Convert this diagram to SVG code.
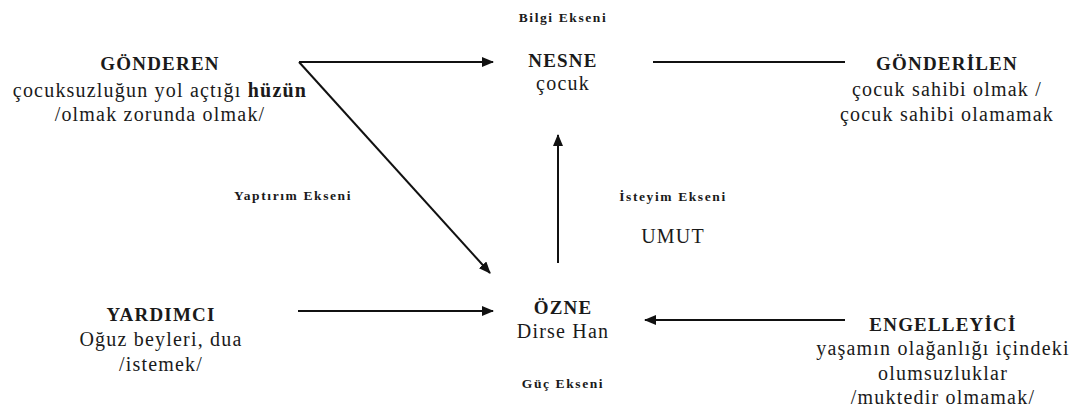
<svg xmlns="http://www.w3.org/2000/svg" width="1078" height="410" viewBox="0 0 1078 410">
<style>
text{font-family:"Liberation Serif","Times New Roman",serif;fill:#1a1a1a;text-anchor:middle}
.t{font-weight:bold;font-size:19px;letter-spacing:1.2px}
.s{font-size:20px;letter-spacing:1.2px}
.ax{font-weight:bold;font-size:13.5px;letter-spacing:1.6px}
.c{stroke:#111;stroke-width:2;fill:none}
</style>
<defs>
<marker id="ah" viewBox="0 0 12 10" refX="11" refY="5" markerWidth="12" markerHeight="10" markerUnits="userSpaceOnUse" orient="auto">
<path d="M0,0 L12,5 L0,10 z" fill="#111"/>
</marker>
</defs>
<rect width="1078" height="410" fill="#fff"/>
<g id="connectors">
<line class="c" x1="299" y1="62" x2="493" y2="62" marker-end="url(#ah)"/>
<line class="c" x1="653" y1="62" x2="845" y2="62"/>
<line class="c" x1="299" y1="62" x2="490" y2="273" marker-end="url(#ah)"/>
<line class="c" x1="558" y1="263" x2="558" y2="135" marker-end="url(#ah)"/>
<line class="c" x1="298" y1="311" x2="493" y2="311" marker-end="url(#ah)"/>
<line class="c" x1="845" y1="320" x2="645" y2="320" marker-end="url(#ah)"/>
</g>
<g id="bilgi"><text class="ax" x="563" y="22">Bilgi Ekseni</text></g>
<g id="nesne"><text class="t" x="563" y="67">NESNE</text><text class="s" x="563" y="90">çocuk</text></g>
<g id="gonderen"><text class="t" x="160" y="70">GÖNDEREN</text><text class="s" x="160" y="97">çocuksuzluğun yol açtığı <tspan font-weight="bold">hüzün</tspan></text><text class="s" x="160" y="121">/olmak zorunda olmak/</text></g>
<g id="gonderilen"><text class="t" x="947" y="70">GÖNDERİLEN</text><text class="s" x="947" y="96">çocuk sahibi olmak /</text><text class="s" x="947" y="121">çocuk sahibi olamamak</text></g>
<g id="yaptirim"><text class="ax" x="293" y="200">Yaptırım Ekseni</text></g>
<g id="isteyim"><text class="ax" x="673" y="201">İsteyim Ekseni</text><text class="s" x="673" y="243">UMUT</text></g>
<g id="yardimci"><text class="t" x="161" y="321">YARDIMCI</text><text class="s" x="161" y="346">Oğuz beyleri, dua</text><text class="s" x="161" y="371">/istemek/</text></g>
<g id="ozne"><text class="t" x="563" y="314">ÖZNE</text><text class="s" x="563" y="338">Dirse Han</text></g>
<g id="guc"><text class="ax" x="563" y="388">Güç Ekseni</text></g>
<g id="engelleyici"><text class="t" x="943" y="331">ENGELLEYİCİ</text><text class="s" x="943" y="355">yaşamın olağanlığı içindeki</text><text class="s" x="943" y="380">olumsuzluklar</text><text class="s" x="943" y="404">/muktedir olmamak/</text></g>
</svg>
